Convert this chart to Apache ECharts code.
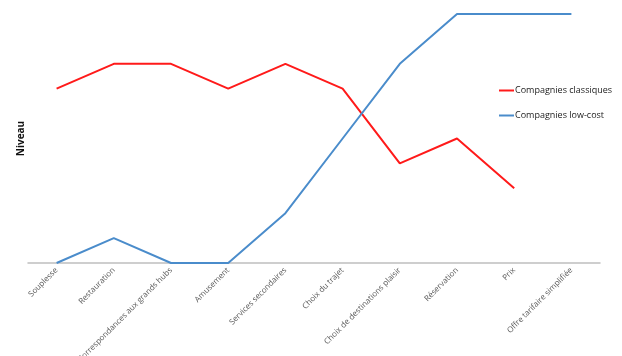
<!DOCTYPE html>
<html><head><meta charset="utf-8">
<script src="https://cdn.jsdelivr.net/npm/echarts@6/dist/echarts.min.js"></script>
<style>html,body{margin:0;padding:0;background:#fff}#c{width:622px;height:356px}</style>
</head><body><div id="c"></div>
<script>
var categories = ["Souplesse","Restauration","Correspondances aux grands hubs","Amusement","Services secondaires","Choix du trajet","Choix de destinations plaisir","Réservation","Prix","Offre tarifaire simplifiée"];
var classiques = [7,8,8,7,8,7,4,5,3,null];
var lowcost = [0,1,0,0,2,5,8,10,10,10];
var chart = echarts.init(document.getElementById('c'));
var font = "'Open Sans', 'Liberation Sans', sans-serif";
chart.setOption({
  animation:false,
  textStyle:{fontFamily:font},
  grid:{left:28,right:22,top:14,bottom:93,containLabel:false,outerBoundsMode:'none'},
  legend:{orient:'vertical',left:494,top:81,itemGap:16,itemWidth:15,itemHeight:2,icon:'rect',
    textStyle:{fontSize:9,color:'#222',fontFamily:font,padding:[0,0,0,-4]},
    data:['Compagnies classiques','Compagnies low-cost']},
  xAxis:{type:'category',data:categories,boundaryGap:true,
    axisLine:{lineStyle:{color:'#BFBFBF',width:1.5}},axisTick:{show:false},
    axisLabel:{rotate:45,fontSize:8,color:'#595959',interval:0,margin:6,fontFamily:font}},
  yAxis:{type:'value',min:0,max:10,interval:1,name:'Niveau',nameLocation:'middle',nameGap:2,
    nameTextStyle:{fontSize:10,fontWeight:'bold',color:'#111',fontFamily:font},
    axisLine:{show:false},axisTick:{show:false},axisLabel:{show:false},splitLine:{show:false}},
  series:[
    {name:'Compagnies classiques',type:'line',data:classiques,symbol:'none',
      lineStyle:{color:'#FF1A1A',width:2},itemStyle:{color:'#FF1A1A'}},
    {name:'Compagnies low-cost',type:'line',data:lowcost,symbol:'none',
      lineStyle:{color:'#4A8CCB',width:2},itemStyle:{color:'#4A8CCB'}}
  ]
});
</script></body></html>
